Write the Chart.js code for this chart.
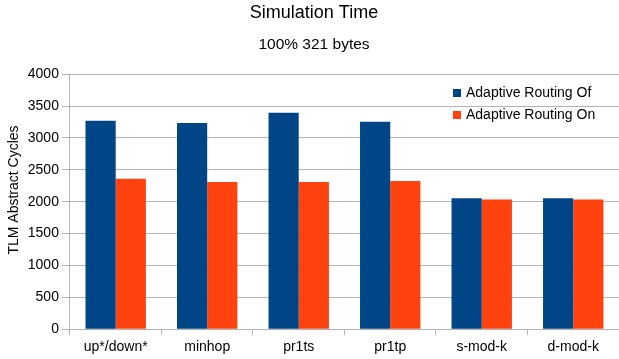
<!DOCTYPE html>
<html>
<head>
<meta charset="utf-8">
<script src="https://cdn.jsdelivr.net/npm/chart.js@4/dist/chart.umd.min.js"></script>
<style>
  html, body { margin: 0; padding: 0; background: #fff; overflow: hidden; }
  #wrap { width: 619px; height: 359px; }
</style>
</head>
<body>
<div id="wrap"><canvas id="myChart"></canvas></div>
<script>
const categories = ["up*/down*", "minhop", "pr1ts", "pr1tp", "s-mod-k", "d-mod-k"];
const routingOff = [3270, 3235, 3395, 3255, 2055, 2055];
const routingOn = [2360, 2310, 2310, 2325, 2035, 2035];
const seriesNames = ["Adaptive Routing Of", "Adaptive Routing On"];
const yTicks = [0, 500, 1000, 1500, 2000, 2500, 3000, 3500, 4000];

const FONT = "'Liberation Sans', Arial, sans-serif";

// legend drawn inside the plot area, like the original
const insideLegend = {
    id: "insideLegend",
    afterDraw(chart) {
        let ctx = chart.ctx;
        ctx.save();
        ctx.font = "14px " + FONT;
        ctx.textBaseline = "middle";
        let x = 453, y = 93;
        chart.data.datasets.forEach(function (ds, i) {
            ctx.fillStyle = ds.backgroundColor;
            ctx.fillRect(x, y + i * 22 - 4, 8, 8);
            ctx.fillStyle = "#000";
            ctx.fillText(ds.label, x + 13, y + i * 22);
        });
        ctx.restore();
    }
};

var ctx = document.getElementById("myChart").getContext("2d");
window.bar = new Chart(ctx, {
    type: "bar",
    data: {
        labels: categories,
        datasets: [{
            label: seriesNames[0],
            data: routingOff,
            backgroundColor: "#004586",
            borderWidth: 0
        }, {
            label: seriesNames[1],
            data: routingOn,
            backgroundColor: "#ff420e",
            borderWidth: 0
        }]
    },
    options: {
        responsive: true,
        maintainAspectRatio: false,
        animation: false,
        // plot runs a little past the right edge in the original (cropped)
        layout: { padding: { left: 3, right: -6, top: 0, bottom: -1 } },
        datasets: {
            bar: { categoryPercentage: 0.66, barPercentage: 1.0 }
        },
        plugins: {
            legend: { display: false },
            tooltip: { enabled: false },
            title: {
                display: true,
                text: "Simulation Time",
                color: "#000",
                font: { family: FONT, size: 18, weight: "normal" },
                padding: { top: 2, bottom: 6 }
            },
            subtitle: {
                display: true,
                text: "100% 321 bytes",
                color: "#000",
                font: { family: FONT, size: 15.5, weight: "normal" },
                padding: { top: 6, bottom: 20 }
            }
        },
        scales: {
            x: {
                offset: true,
                grid: {
                    display: true,
                    drawOnChartArea: false,
                    drawTicks: true,
                    tickLength: 6,
                    offset: true,
                    color: "#b3b3b3"
                },
                border: { color: "#b3b3b3" },
                ticks: {
                    color: "#000",
                    font: { family: FONT, size: 14 },
                    padding: 4,
                    maxRotation: 0
                }
            },
            y: {
                min: 0,
                max: 4000,
                afterBuildTicks: function (axis) {
                    axis.ticks = yTicks.map(function (v) { return { value: v }; });
                },
                grid: {
                    color: "#b3b3b3",
                    tickLength: 8
                },
                border: { color: "#b3b3b3" },
                ticks: {
                    color: "#000",
                    font: { family: FONT, size: 14 },
                    padding: 3,
                    callback: function (v) { return String(v); }
                },
                title: {
                    display: true,
                    // leading spaces push the title up a bit, as in the original
                    text: "      TLM Abstract Cycles",
                    color: "#000",
                    font: { family: FONT, size: 14 },
                    padding: { top: 3, bottom: 2 }
                }
            }
        }
    },
    plugins: [insideLegend]
});
</script>
</body>
</html>
